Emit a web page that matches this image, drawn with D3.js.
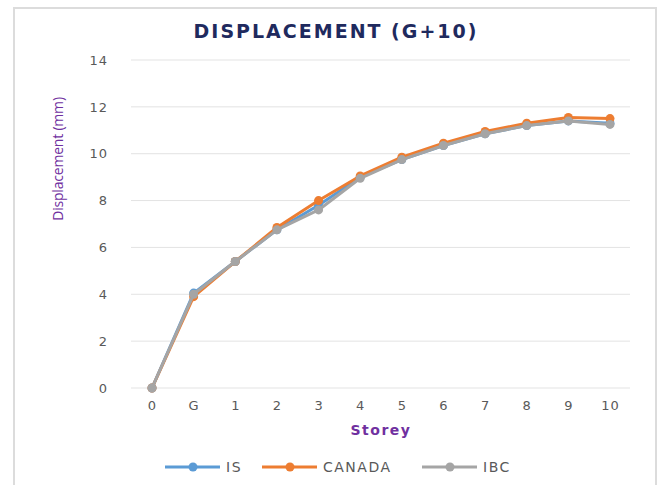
<!DOCTYPE html>
<html>
<head>
<meta charset="utf-8">
<script src="https://cdn.jsdelivr.net/npm/d3@7"></script>
<style>
  body { margin: 0; background: #fff; }
  svg { font-family: "DejaVu Sans", "Open Sans", sans-serif; }
</style>
</head>
<body>
<div id="chart"></div>
<script>
var width = 662,
	height = 485;

// data
var storeys = ['0', 'G', '1', '2', '3', '4', '5', '6', '7', '8', '9', '10'];
var isValues = [0, 4.05, 5.4, 6.75, 7.8, 9.0, 9.75, 10.35, 10.85, 11.2, 11.4, 11.3];
var canadaValues = [0, 3.9, 5.4, 6.85, 8.0, 9.05, 9.85, 10.45, 10.95, 11.3, 11.55, 11.5];
var ibcValues = [0, 4.0, 5.4, 6.75, 7.6, 8.95, 9.75, 10.35, 10.85, 11.2, 11.4, 11.25];
var yTicks = [0, 2, 4, 6, 8, 10, 12, 14];

var series = [
	{ name: 'IS', values: isValues, color: '#5b9bd5' },
	{ name: 'CANADA', values: canadaValues, color: '#ed7d31' },
	{ name: 'IBC', values: ibcValues, color: '#a5a5a5' }
];

var svg = d3.select('#chart').append('svg')
	.attr('width', width)
	.attr('height', height);

// chart frame
svg.append('path')
	.attr('d', 'M14,' + height + 'V8H656V' + height)
	.attr('fill', 'none')
	.attr('stroke', '#dcdcdc')
	.attr('stroke-width', 2);

var x = d3.scalePoint()
	.domain(storeys)
	.range([152, 610]);

var y = d3.scaleLinear()
	.domain([0, 14])
	.range([388, 60]);

// gridlines
svg.append('g')
	.selectAll('line')
	.data(yTicks)
	.enter().append('line')
	.attr('x1', 131)
	.attr('x2', 630)
	.attr('y1', function(d) { return y(d); })
	.attr('y2', function(d) { return y(d); })
	.attr('stroke', '#e3e3e3')
	.attr('stroke-width', 1);

// y axis labels
var yAxis = svg.append('g')
	.attr('transform', 'translate(113,0)')
	.call(d3.axisLeft(y).tickValues(yTicks).tickSize(0).tickPadding(5));
yAxis.select('.domain').remove();
yAxis.selectAll('text')
	.attr('fill', '#595959')
	.style('font-family', '"DejaVu Sans", sans-serif')
	.style('font-size', '13px')
	.style('letter-spacing', '1px');

// x axis labels
var xAxis = svg.append('g')
	.attr('transform', 'translate(0,398)')
	.call(d3.axisBottom(x).tickSize(0).tickPadding(3));
xAxis.select('.domain').remove();
xAxis.selectAll('text')
	.attr('fill', '#595959')
	.style('font-family', '"DejaVu Sans", sans-serif')
	.style('font-size', '13px')
	.style('letter-spacing', '1px');

// title
svg.append('text')
	.attr('x', 336)
	.attr('y', 38)
	.attr('text-anchor', 'middle')
	.attr('fill', '#1f2a5e')
	.style('font-size', '19px')
	.style('font-weight', 'bold')
	.style('letter-spacing', '2px')
	.text('DISPLACEMENT (G+10)');

// axis titles
svg.append('text')
	.attr('transform', 'translate(63,159) rotate(-90)')
	.attr('text-anchor', 'middle')
	.attr('fill', '#7030a0')
	.style('font-family', '"Open Sans", sans-serif')
	.style('font-size', '14px')
	.style('letter-spacing', '-0.2px')
	.text('Displacement (mm)');

svg.append('text')
	.attr('x', 381)
	.attr('y', 435)
	.attr('text-anchor', 'middle')
	.attr('fill', '#7030a0')
	.style('font-size', '14px')
	.style('font-weight', 'bold')
	.style('letter-spacing', '1.5px')
	.text('Storey');

// lines and markers
var line = d3.line()
	.x(function(d, i) { return x(storeys[i]); })
	.y(function(d) { return y(d); });

series.forEach(function(s) {
	var g = svg.append('g');
	g.append('path')
		.datum(s.values)
		.attr('d', line)
		.attr('fill', 'none')
		.attr('stroke', s.color)
		.attr('stroke-width', 3)
		.attr('stroke-linejoin', 'round');
	g.selectAll('circle')
		.data(s.values)
		.enter().append('circle')
		.attr('cx', function(d, i) { return x(storeys[i]); })
		.attr('cy', function(d) { return y(d); })
		.attr('r', 4.5)
		.attr('fill', s.color);
});

// legend
var legendX = [165, 262, 422];
var legend = svg.append('g')
	.selectAll('g')
	.data(series)
	.enter().append('g')
	.attr('transform', function(d, i) { return 'translate(' + legendX[i] + ',467)'; });

legend.append('line')
	.attr('x1', 0)
	.attr('x2', 55)
	.attr('stroke', function(d) { return d.color; })
	.attr('stroke-width', 3);

legend.append('circle')
	.attr('cx', 28)
	.attr('r', 4.5)
	.attr('fill', function(d) { return d.color; });

legend.append('text')
	.attr('x', 61)
	.attr('y', 5)
	.attr('fill', '#595959')
	.style('font-size', '14px')
	.style('letter-spacing', '1.5px')
	.text(function(d) { return d.name; });
</script>
</body>
</html>
